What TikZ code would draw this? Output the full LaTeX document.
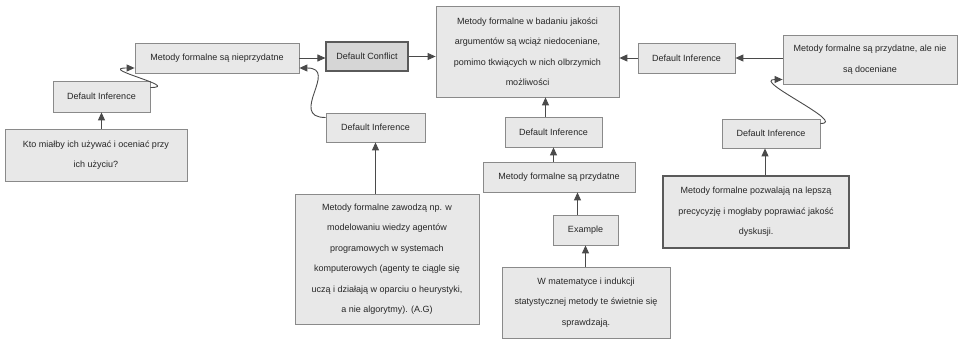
\documentclass[tikz,border=0pt]{standalone}
\usepackage{fontspec}
\setmainfont{Liberation Sans}
\usetikzlibrary{arrows.meta}
\definecolor{boxfill}{HTML}{E8E8E8}
\definecolor{boxline}{HTML}{8A8A8A}
\definecolor{darkfill}{HTML}{D6D6D6}
\definecolor{darkline}{HTML}{5A5A5A}
\definecolor{arrline}{HTML}{4A4A4A}
\definecolor{txt}{HTML}{262626}

\begin{document}
\begin{tikzpicture}[x=1pt,y=-1pt,
	box/.style={draw=boxline,fill=boxfill,line width=0.8pt,text=txt,
		font=\fontsize{9}{20.5}\selectfont,align=center,inner sep=0pt},
	strongbox/.style={box,draw=darkline,line width=1.4pt},
	arr/.style={draw=arrline,line width=0.9pt,-{Triangle[length=8pt,width=7pt]}}]
			\useasboundingbox (0,0) rectangle (961,339);
			
			\node[box,minimum width=182pt,minimum height=52pt] (kto) at (96,155) {Kto miałby ich używać i oceniać przy\\ich użyciu?};
			\node[box,minimum width=97pt,minimum height=31pt] (di1) at (101.5,96.5) {Default Inference};
			\node[box,minimum width=164pt,minimum height=30pt] (nieprz) at (217,58) {Metody formalne są nieprzydatne};
			\node[box,fill=darkfill,draw=darkline,line width=1.1pt,minimum width=82pt,minimum height=29pt] (conflict) at (367,56.5) {Default Conflict};
			\node[box,minimum width=183pt,minimum height=91pt] (central) at (527.5,51.5) {Metody formalne w badaniu jakości\\argumentów są wciąż niedoceniane,\\pomimo tkwiących w nich olbrzymich\\możliwości};
			\node[box,minimum width=99pt,minimum height=29pt] (di2) at (375.5,127.5) {Default Inference};
			\node[box,minimum width=184pt,minimum height=130pt] (zawodza) at (387,259) {Metody formalne zawodzą np. w\\modelowaniu wiedzy agentów\\programowych w systemach\\komputerowych (agenty te ciągle się\\uczą i działają w oparciu o heurystyki,\\a nie algorytmy). (A.G)};
			\node[box,minimum width=97pt,minimum height=30pt] (di3) at (553.5,132) {Default Inference};
			\node[box,minimum width=152pt,minimum height=30pt] (przyd) at (559,177) {Metody formalne są przydatne};
			\node[box,minimum width=65pt,minimum height=30pt] (example) at (585.5,230) {Example};
			\node[box,minimum width=168pt,minimum height=71pt] (matem) at (586,302.5) {W matematyce i indukcji\\statystycznej metody te świetnie się\\sprawdzają.};
			\node[box,minimum width=97pt,minimum height=30pt] (di4) at (686.5,58) {Default Inference};
			\node[box,minimum width=174pt,minimum height=49pt] (ale) at (870,59.5) {Metody formalne są przydatne, ale nie\\są doceniane};
			\node[box,minimum width=98pt,minimum height=29pt] (di5) at (771,133.5) {Default Inference};
			\node[strongbox,minimum width=186pt,minimum height=72pt] (pozw) at (756,212) {Metody formalne pozwalają na lepszą\\precycyzję i mogłaby poprawiać jakość\\dyskusji.};
			
			\draw[arr] (kto.north -| di1.south) -- (di1.south);
			\draw[arr] ([yshift=9pt]di1.east) .. controls +(32,0) and +(-38,0) .. ([yshift=-10pt]nieprz.west);
			\draw[arr] (nieprz.east) -- (nieprz.east -| conflict.west);
			\draw[arr] (conflict.east) -- (conflict.east -| central.west);
			\draw[arr] ([yshift=10pt]di2.west) .. controls +(-38,0) and +(40,0) .. ([yshift=-10pt]nieprz.east);
			\draw[arr] (zawodza.north -| di2.south) -- (di2.south);
			\draw[arr] ([xshift=-8pt]di3.north) -- ([xshift=-8pt]di3.north |- central.south);
			\draw[arr] (przyd.north -| di3.south) -- (di3.south);
			\draw[arr] ([xshift=-8pt]example.north) -- ([xshift=-8pt]example.north |- przyd.south);
			\draw[arr] (matem.north -| example.south) -- (example.south);
			\draw[arr] (di4.west) -- (di4.west -| central.east);
			\draw[arr] (di4.east -| ale.west) -- (di4.east);
			\draw[arr] ([yshift=10pt]di5.east) .. controls +(28,0) and +(-32,0) .. ([yshift=-20pt]ale.west);
			\draw[arr] ([xshift=9pt]pozw.north) -- ([xshift=9pt]pozw.north |- di5.south);
			
\end{tikzpicture}
\end{document}
